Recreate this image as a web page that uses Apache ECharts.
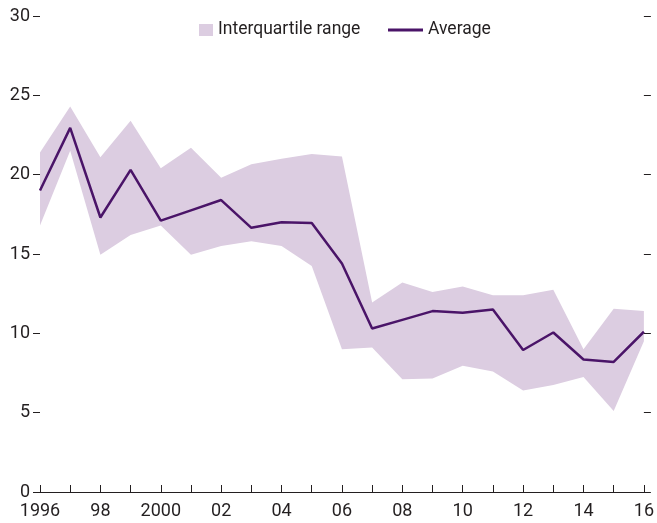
<!DOCTYPE html>
<html>
<head>
<meta charset="utf-8">
<script src="https://cdn.jsdelivr.net/npm/echarts@6/dist/echarts.min.js"></script>
<style>
  html, body { margin: 0; padding: 0; background: #fff; }
  #container { width: 657px; height: 523px; }
</style>
</head>
<body>
<div id="container"></div>
<script>
var years = ['1996', '1997', '1998', '1999', '2000', '2001', '2002', '2003', '2004', '2005', '2006',
  '2007', '2008', '2009', '2010', '2011', '2012', '2013', '2014', '2015', '2016']
var average = [19.0, 22.95, 17.3, 20.3, 17.1, 17.75, 18.4, 16.65, 17.0, 16.95, 14.4,
  10.3, 10.85, 11.4, 11.3, 11.5, 8.95, 10.05, 8.35, 8.2, 10.1]
var upperQ = [21.4, 24.3, 21.1, 23.4, 20.4, 21.7, 19.8, 20.65, 21.0, 21.3, 21.15,
  11.95, 13.2, 12.6, 12.95, 12.4, 12.4, 12.75, 9.0, 11.55, 11.4]
var lowerQ = [16.8, 21.5, 14.95, 16.2, 16.8, 14.95, 15.5, 15.8, 15.5, 14.25, 9.0,
  9.1, 7.1, 7.15, 7.95, 7.6, 6.4, 6.75, 7.25, 5.1, 9.5]

var bandColor = '#dccde1'
var lineColor = '#4a1468'
var textColor = '#231f20'
var font = 'Roboto'

// height of the shaded band on top of the invisible lower series
var spread = upperQ.map(function(v, i) {
  return +(v - lowerQ[i]).toFixed(2)
})

var dom = document.getElementById('container')
var myChart = echarts.init(dom)

var option = {
  animation: false,
  backgroundColor: '#fff',
  textStyle: {
    fontFamily: font
  },
  legend: [{
    data: ['Interquartile range'],
    left: 194,
    top: 16,
    icon: 'rect',
    itemWidth: 14,
    itemHeight: 12,
    itemGap: 6,
    textStyle: {
      fontFamily: font,
      fontSize: 17.5,
      color: textColor
    }
  }, {
    data: ['Average'],
    left: 383,
    top: 16,
    icon: 'rect',
    itemWidth: 35,
    itemHeight: 3,
    textStyle: {
      fontFamily: font,
      fontSize: 17.5,
      color: textColor
    }
  }],
  grid: {
    left: 40,
    right: 10,
    top: 16,
    bottom: 31
  },
  xAxis: {
    type: 'category',
    data: years,
    boundaryGap: false,
    axisLine: {
      lineStyle: {
        color: textColor,
        width: 1
      }
    },
    axisTick: {
      inside: true,
      length: 7,
      interval: 0,
      lineStyle: {
        color: textColor
      }
    },
    axisLabel: {
      interval: 1,
      margin: 10,
      fontFamily: font,
      fontSize: 18,
      color: textColor,
      formatter: function(v) {
        if (v === '1996' || v === '2000') return v
        return v.slice(2)
      }
    },
    splitLine: {
      show: false
    }
  },
  yAxis: [{
    type: 'value',
    min: 0,
    max: 30,
    interval: 5,
    position: 'left',
    axisLine: {
      show: false
    },
    axisTick: {
      show: true,
      length: 7,
      lineStyle: {
        color: textColor
      }
    },
    axisLabel: {
      margin: 10,
      fontFamily: font,
      fontSize: 18,
      color: textColor
    },
    splitLine: {
      show: false
    }
  }, {
    type: 'value',
    min: 0,
    max: 30,
    interval: 5,
    position: 'right',
    axisLine: {
      show: false
    },
    axisTick: {
      show: true,
      length: 7,
      lineStyle: {
        color: textColor
      }
    },
    axisLabel: {
      show: false
    },
    splitLine: {
      show: false
    }
  }],
  series: [{
    name: 'lower',
    type: 'line',
    stack: 'band',
    data: lowerQ,
    showSymbol: false,
    symbol: 'none',
    lineStyle: {
      width: 0,
      opacity: 0
    },
    silent: true
  }, {
    name: 'Interquartile range',
    type: 'line',
    stack: 'band',
    data: spread,
    showSymbol: false,
    symbol: 'none',
    itemStyle: {
      color: bandColor
    },
    lineStyle: {
      width: 0,
      opacity: 0
    },
    areaStyle: {
      color: bandColor,
      opacity: 1
    },
    silent: true
  }, {
    name: 'Average',
    type: 'line',
    data: average,
    showSymbol: false,
    symbol: 'none',
    itemStyle: {
      color: lineColor
    },
    lineStyle: {
      color: lineColor,
      width: 2.5
    },
    z: 5
  }]
}

myChart.setOption(option)
</script>
</body>
</html>
